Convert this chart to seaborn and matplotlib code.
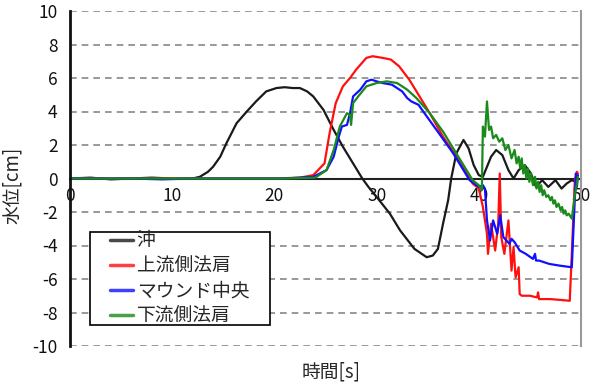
import numpy as np
import pandas as pd
import matplotlib
matplotlib.use("Agg")
import matplotlib.pyplot as plt
import seaborn as sns
from matplotlib.patches import Rectangle

# ---- data ----
labels = ["沖", "上流側法肩", "マウンド中央", "下流側法肩"]
colors = ["#1a1a1a", "#ff1010", "#1010ff", "#1a8a1a"]

x_oki = [0, 2, 4, 6, 8, 10, 12, 12.7, 13.5, 14.0, 14.7, 15.3, 16.3, 17.3, 18.2, 19.2, 20.2,
         21.0, 21.8, 22.5, 23.2, 23.8, 24.8, 25.8, 26.7, 27.7, 28.6, 29.2, 30.0, 31.3, 32.3,
         33.7, 34.9, 35.5, 36.0, 36.5, 37.0, 37.3, 37.8, 38.5, 39.0, 39.5, 40.0, 40.4, 40.8,
         41.2, 41.7, 42.3, 42.9, 43.4, 43.9, 44.5, 45.1, 45.6, 46.2, 46.8, 47.5, 48.1, 48.6,
         49.1, 49.5]
y_oki = [0, 0.05, -0.05, 0, 0.05, 0, 0, 0.1, 0.4, 0.7, 1.3, 2.1, 3.3, 4.0, 4.6, 5.2, 5.4,
         5.45, 5.4, 5.4, 5.2, 4.9, 4.1, 2.9, 1.9, 0.9, 0.0, -0.5, -1.1, -2.1, -3.1,
         -4.2, -4.7, -4.6, -4.2, -2.7, -1.3, 0.0, 1.5, 2.3, 1.8, 0.8, 0.2, 0.1, 0.7,
         1.3, 1.7, 1.4, 0.5, 0.0, 0.5, 0.8, 0.3, -0.5, -0.1, -0.5, -0.1, -0.6, -0.3,
         -0.1, -0.2]

x_up = [0, 4, 8, 12, 16, 20, 22.5, 23.8, 24.9, 25.4, 26.0, 26.7,
        27.4, 28.0, 29.0, 29.6, 30.6, 31.4, 32.2, 33.2, 34.2, 35.2, 36.5, 37.8,
        39.4, 40.0, 40.4, 40.8, 40.9, 41.2, 41.6, 41.9, 42.05, 42.2, 42.5, 42.9, 43.2, 43.4,
        43.6, 43.9, 44.0, 44.2, 45.0, 45.7, 45.8, 45.9, 47.0, 48.0, 48.9, 49.1, 49.4, 49.6,
        49.7]
y_up = [0, 0, 0, 0, 0, 0, 0.05, 0.2, 0.9, 2.7, 4.5, 5.5,
        6.0, 6.5, 7.2, 7.3, 7.2, 7.1, 6.7, 5.9, 4.9, 3.9, 2.5, 1.3,
        -0.3, -0.6, -1.7, -3.3, -4.5, -2.7, -4.3, -2.7, 0.3, -3.5, -4.5, -2.5, -5.5, -4.1,
        -5.9, -5.3, -6.9, -7.0, -7.0, -7.1, -6.8, -7.2, -7.2, -7.25, -7.3, -4.5, -0.1, 0.4,
        0.3]

x_mid = [0, 3, 6, 9, 12, 15, 18, 21, 23.8, 25.1, 25.8, 26.3, 26.6, 27.1, 27.4, 27.7, 28.4,
         29.0, 29.5, 30.0, 30.6, 31.5, 32.5, 33.0, 33.4, 34.1, 34.8, 36.1, 37.5, 39.1, 40.0,
         40.4, 40.6, 40.8, 41.1, 41.4, 41.8, 42.1, 42.4, 42.7, 43.0, 43.2, 43.5, 44.0, 44.6,
         45.3, 45.5, 45.6, 45.9, 46.9, 47.9, 49.1, 49.5, 49.6, 49.7]
y_mid = [0, 0, 0, -0.05, 0, 0, 0, 0, 0.1, 0.5, 1.3, 2.5, 3.1, 3.2, 3.9, 4.9, 5.3,
         5.8, 5.9, 5.8, 5.7, 5.6, 5.2, 4.8, 4.6, 4.4, 3.8, 2.7, 1.5, -0.1, -0.5,
         -0.4, -0.6, -2.5, -3.7, -2.5, -3.3, -2.2, -3.5, -3.7, -3.9, -3.6, -3.8, -4.3, -4.5,
         -4.8, -4.5, -4.9, -4.9, -5.1, -5.2, -5.3, 0.3, -0.5, 0.2]

x_down = [0, 3, 6, 9, 12, 15, 18, 21, 24, 25.1, 25.8, 26.4, 27.1, 27.4, 27.5, 27.7, 28.2,
          29.0, 30.0, 31.0, 32.0, 33.0, 33.9, 35.2, 36.5, 37.8, 39.4, 40.0, 40.3, 40.4, 40.6,
          40.8, 41.0, 41.2, 41.4, 41.7, 42.0, 42.3, 42.6, 42.9, 43.2, 43.5, 43.7, 43.9, 44.05,
          44.2, 44.35, 44.5, 44.65, 44.8, 44.95, 45.1, 45.3, 45.5, 45.65, 45.8, 45.95, 46.1,
          46.25, 46.4, 46.6, 46.8, 47.0, 47.15, 47.3, 47.45, 47.6, 47.8, 48.0, 48.15, 48.3,
          48.45, 48.6, 48.8, 49.1, 49.4, 49.7]
y_down = [0, 0, 0, 0, 0, 0, 0, 0, 0.05, 0.5, 1.7, 3.1, 3.9, 3.8, 3.2, 4.5, 4.9,
          5.5, 5.7, 5.8, 5.7, 5.3, 4.8, 3.9, 2.8, 1.5, -0.1, -0.4, -0.7, 3.1, 2.5,
          4.6, 2.9, 3.1, 2.4, 2.6, 2.2, 2.4, 1.7, 2.0, 1.2, 1.7, 0.9, 1.3, 0.6,
          1.2, 0.3, 0.8, 0.0, 0.6, -0.2, 0.3, -0.4, 0.1, -0.6, -0.2, -0.8, -0.4,
          -1.0, -0.7, -1.1, -1.0, -1.3, -1.1, -1.5, -1.3, -1.7, -1.5, -1.9, -1.7, -2.1,
          -1.9, -2.2, -2.1, -2.4, -1.0, 0.1]

series = [(x_oki, y_oki), (x_up, y_up), (x_mid, y_mid), (x_down, y_down)]
frames = []
for lab, (xs, ys) in zip(labels, series):
    frames.append(pd.DataFrame({"t": xs, "h": ys, "series": lab}))
df = pd.concat(frames, ignore_index=True)

# ---- style ----
sns.set_theme(style="white")
plt.rcParams["font.family"] = ["Noto Sans CJK JP", "DejaVu Sans"]
plt.rcParams["axes.unicode_minus"] = False

fig = plt.figure(figsize=(5.96, 3.87), dpi=100)
ax = fig.add_axes([70 / 596, 1 - 346 / 387, 511 / 596, 335 / 387])

sns.lineplot(data=df, x="t", y="h", hue="series", hue_order=labels,
             palette=dict(zip(labels, colors)), estimator=None, sort=False,
             linewidth=1.6, ax=ax, legend=True)

ax.set_xlim(0, 50)
ax.set_ylim(-10, 10)
ax.set_xticks(np.arange(0, 51, 10))
ax.set_yticks(np.arange(-10, 11, 2))

# grid
ax.yaxis.grid(True, color="#888888", linestyle=(0, (4, 3)), linewidth=1.2)
ax.xaxis.grid(False)
ax.set_axisbelow(True)

# spines
ax.spines["top"].set_visible(False)
ax.spines["right"].set_color("#999999")
ax.spines["right"].set_linewidth(1.5)
ax.spines["left"].set_color("#111111")
ax.spines["left"].set_linewidth(2.0)
ax.spines["bottom"].set_position(("data", 0))
ax.spines["bottom"].set_color("#222222")
ax.spines["bottom"].set_linewidth(1.5)
ax.spines["bottom"].set_zorder(1.5)

ax.tick_params(axis="both", direction="in", length=4, width=1.2, colors="#111111",
               labelsize=12.5)
ax.tick_params(axis="x", pad=6)
ax.tick_params(axis="y", pad=9)

ax.set_xlabel("時間[s]", fontsize=13.5)
ax.set_ylabel("水位[cm]", fontsize=13.5)
ax.xaxis.set_label_coords(0.51, -0.045)
ax.yaxis.set_label_coords(-0.092, 0.48)

# legend
handles, _ = ax.get_legend_handles_labels()
leg = ax.legend(handles[:4], labels, loc="center", bbox_to_anchor=(0.215, 0.2015),
                fontsize=13.5, frameon=True, fancybox=False, handlelength=1.2,
                handletextpad=0.2, labelspacing=0.22, borderpad=0.15)
for lh in leg.get_lines():
    lh.set_linewidth(2.5)
    lh.set_alpha(0.8)
leg.get_frame().set_visible(False)
ax.add_patch(Rectangle((0.039, 0.063), 0.352, 0.277, transform=ax.transAxes,
                       facecolor="white", edgecolor="black", linewidth=1.2, zorder=4))
leg.set_zorder(5)

fig.savefig("out.png", dpi=100)
